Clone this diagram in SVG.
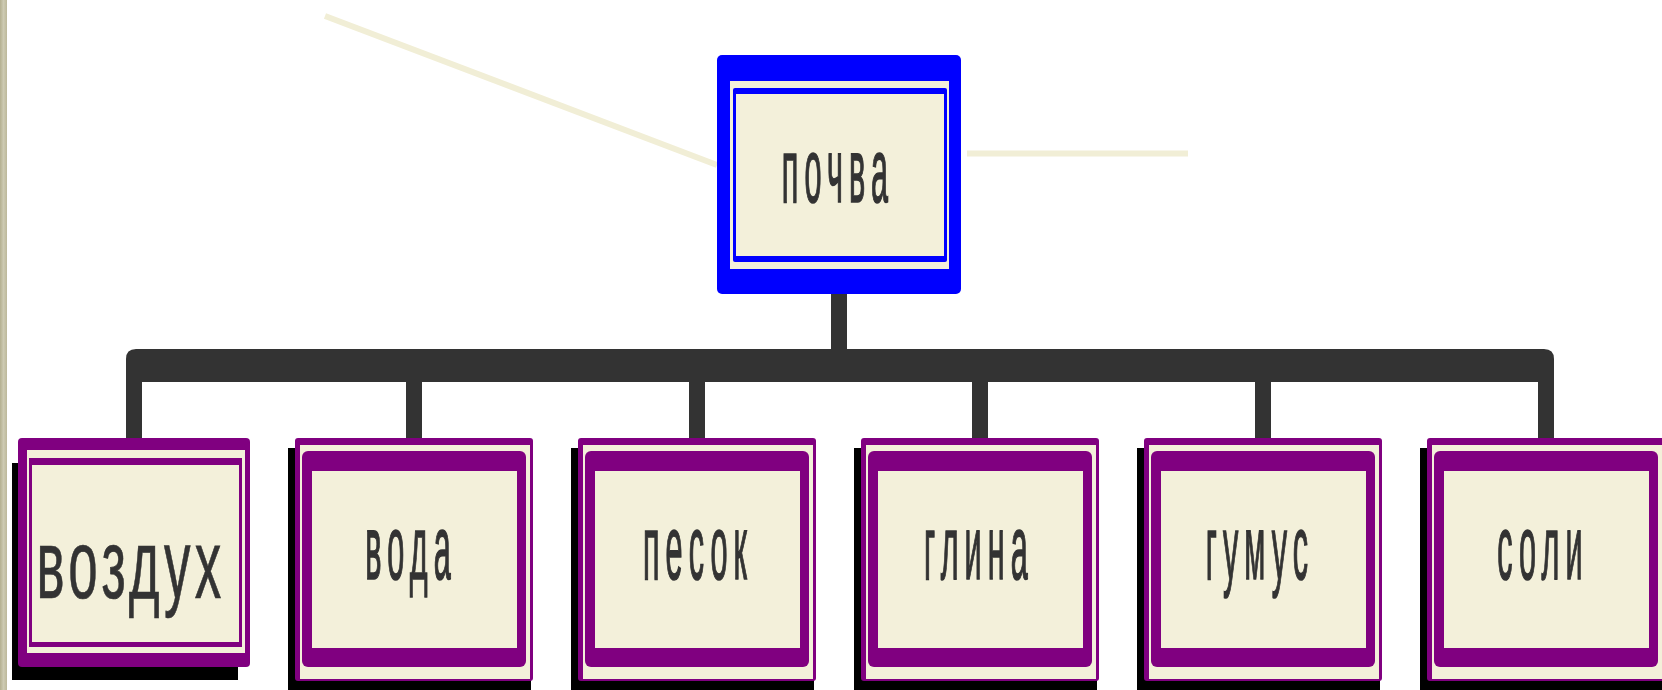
<svg xmlns="http://www.w3.org/2000/svg" width="1662" height="690" viewBox="0 0 1662 690">
<defs>
<style>
.t{font-family:"Liberation Sans",Arial,sans-serif;font-size:90px;fill:#333333;letter-spacing:18px;text-anchor:middle;stroke:#333333;stroke-width:1.3px;vector-effect:non-scaling-stroke}
.cream{fill:#f3f0da}
.pur{fill:#800080}
.blue{fill:#0000ff}
.shadow{fill:#000000}
.deco{stroke:#f1eed6;stroke-width:6;fill:none;stroke-linecap:butt}
</style>
<linearGradient id="bar" x1="0" y1="0" x2="1" y2="0">
<stop offset="0" stop-color="#b3af8f"/>
<stop offset="0.5" stop-color="#cdcab2"/>
<stop offset="1" stop-color="#bcb89a"/>
</linearGradient>
</defs>
<rect x="0" y="0" width="1662" height="690" fill="#ffffff"/>
<rect x="0" y="0" width="7" height="690" fill="url(#bar)"/>
<g id="decor">
<line class="deco" x1="325" y1="16" x2="717" y2="165"/>
<line class="deco" x1="967" y1="153.5" x2="1188" y2="153.5"/>
</g>
<g id="connectors">
<rect x="831" y="292" width="16" height="60" fill="#333333"/>
<path fill="#333333" d="M126,440 V359 Q126,349 136,349 H1544 Q1554,349 1554,359 V440 H1538 V382 H1271 V440 H1255 V382 H988 V440 H972 V382 H705 V440 H689 V382 H422 V440 H406 V382 H142 V440 Z"/>
</g>
<g id="node-pochva">
<rect class="blue" x="717" y="55" width="244" height="239" rx="5"/>
<rect class="cream" x="730" y="81" width="219" height="188"/>
<rect class="blue" x="733" y="88" width="214" height="174" rx="2"/>
<rect class="cream" x="736" y="94" width="208" height="162"/>
<text class="t" transform="translate(838,202) scale(0.34,1)">почва</text>
</g>
<g id="node-vozdukh">
<rect class="shadow" x="12" y="463" width="226" height="217"/>
<rect class="pur" x="18" y="438" width="232" height="229" rx="4"/>
<rect class="cream" x="27" y="450" width="218" height="203"/>
<rect class="pur" x="29" y="458" width="213" height="189"/>
<rect class="cream" x="32" y="465" width="207" height="177"/>
<text class="t" style="font-size:98px;letter-spacing:8px;stroke-width:0.6px" transform="translate(131,598) scale(0.54,1)">воздух</text>
</g>
<g id="node-voda">
<rect class="shadow" x="288" y="448" width="243" height="250"/>
<rect class="pur" x="295" y="438" width="238" height="243" rx="3"/>
<rect class="cream" x="300" y="445" width="230" height="234"/>
<rect class="pur" x="302" y="451" width="224" height="216" rx="6"/>
<rect class="cream" x="312" y="471" width="205" height="177"/>
<text class="t" transform="translate(411,579) scale(0.34,1)">вода</text>
</g>
<g id="node-pesok">
<rect class="shadow" x="571" y="448" width="243" height="250"/>
<rect class="pur" x="578" y="438" width="238" height="243" rx="3"/>
<rect class="cream" x="583" y="445" width="230" height="234"/>
<rect class="pur" x="585" y="451" width="224" height="216" rx="6"/>
<rect class="cream" x="595" y="471" width="205" height="177"/>
<text class="t" transform="translate(698,579) scale(0.34,1)">песок</text>
</g>
<g id="node-glina">
<rect class="shadow" x="854" y="448" width="243" height="250"/>
<rect class="pur" x="861" y="438" width="238" height="243" rx="3"/>
<rect class="cream" x="866" y="445" width="230" height="234"/>
<rect class="pur" x="868" y="451" width="224" height="216" rx="6"/>
<rect class="cream" x="878" y="471" width="205" height="177"/>
<text class="t" transform="translate(979,579) scale(0.34,1)">глина</text>
</g>
<g id="node-gumus">
<rect class="shadow" x="1137" y="448" width="243" height="250"/>
<rect class="pur" x="1144" y="438" width="238" height="243" rx="3"/>
<rect class="cream" x="1149" y="445" width="230" height="234"/>
<rect class="pur" x="1151" y="451" width="224" height="216" rx="6"/>
<rect class="cream" x="1161" y="471" width="205" height="177"/>
<text class="t" transform="translate(1260,579) scale(0.34,1)">гумус</text>
</g>
<g id="node-soli">
<rect class="shadow" x="1420" y="448" width="243" height="250"/>
<rect class="pur" x="1427" y="438" width="238" height="243" rx="3"/>
<rect class="cream" x="1432" y="445" width="230" height="234"/>
<rect class="pur" x="1434" y="451" width="224" height="216" rx="6"/>
<rect class="cream" x="1444" y="471" width="205" height="177"/>
<text class="t" transform="translate(1543,579) scale(0.34,1)">соли</text>
</g>
</svg>
